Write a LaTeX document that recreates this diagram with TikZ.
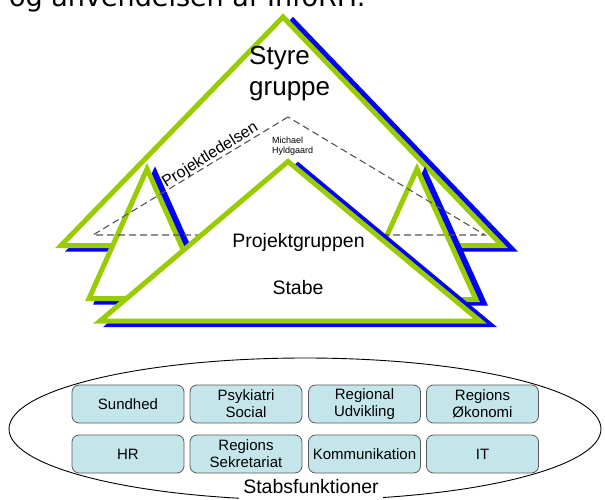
\documentclass[tikz,border=0pt]{standalone}
\usepackage{fontspec}
\setmainfont{Liberation Sans}
\newfontfamily\headfont{DejaVu Sans}
\usetikzlibrary{shapes.geometric}
\definecolor{leaf}{HTML}{99CC00}
\definecolor{shade}{HTML}{0000FF}
\definecolor{cellfill}{HTML}{C4E6EA}
\definecolor{cellline}{HTML}{5A5A5A}
\definecolor{dashgray}{HTML}{555555}
% triangle with a blue drop shadow: three vertex names and the shadow offset
\newcommand\shadedtri[4]{%
  \filldraw[trishade] ([shift={#4}]#1) -- ([shift={#4}]#2) -- ([shift={#4}]#3) -- cycle;
  \filldraw[tri] (#1) -- (#2) -- (#3) -- cycle;}
\begin{document}
\begin{tikzpicture}[x=1pt,y=-1pt,
  tri/.style={fill=white,draw=leaf,line width=5pt},
  trishade/.style={fill=shade,draw=shade,line width=5pt},
  cell/.style={draw=cellline,fill=cellfill,line width=0.8pt,rounded corners=7pt,
    minimum width=112pt,minimum height=38pt,inner sep=0pt,align=center,
    font=\fontsize{15}{17}\selectfont},
  label/.style={inner sep=0pt}]
\useasboundingbox (0,0) rectangle (605,500);

% heading line, running off the top edge
\node[label,anchor=base west,font=\headfont\fontsize{27}{32}\selectfont] (head) at (9,7) {og anvendelsen af InfoRH.};

% vertices of the triangles
\coordinate (sA) at (283,17);   \coordinate (sL) at (61,245.5);  \coordinate (sR) at (502,245.5);
\coordinate (lA) at (147,169);  \coordinate (lL) at (89,298.5);  \coordinate (lR) at (205,298.5);
\coordinate (rA) at (417,169);  \coordinate (rL) at (358,299.5); \coordinate (rR) at (476,299.5);
\coordinate (pA) at (288,161.5);\coordinate (pL) at (100,321);   \coordinate (pR) at (480,321);
\coordinate (dA) at (288,117);  \coordinate (dL) at (93,235);    \coordinate (dR) at (485,235);

% steering group
\shadedtri{sA}{sL}{sR}{(10,3.5)}
% side triangles
\shadedtri{lA}{lL}{lR}{(8,3.5)}
\shadedtri{rA}{rL}{rR}{(8,3.5)}
% project management (dashed)
\draw[dashgray,line width=1.1pt,dash pattern=on 7pt off 4pt] (dA) -- (dL) -- (dR) -- cycle;
% project group and staff
\shadedtri{pA}{pL}{pR}{(10,3.5)}

% labels (multi-line nodes sit on the baseline of their last line)
\node[label,anchor=base west,align=left,font=\fontsize{26}{31}\selectfont] (styre) at (249,96) {Styre\\gruppe};
\node[label,anchor=base west,rotate=32,font=\fontsize{16}{19}\selectfont] (ledelse) at (166,188) {Projektledelsen};
\node[label,anchor=base west,align=left,font=\fontsize{9}{10.5}\selectfont] (leder) at (272,153.5) {Michael\\Hyldgaard};
\node[label,anchor=base,font=\fontsize{19.5}{23}\selectfont] (pgruppe) at (298.5,247) {Projektgruppen};
\node[label,anchor=base,font=\fontsize{19.5}{23}\selectfont] (stabe) at (298,294) {Stabe};

% staff functions
\node[draw,ellipse,line width=0.9pt,minimum width=592pt,minimum height=142pt,inner sep=0pt] (funk) at (305,429) {};
\node[cell] (c1) at (128,404) {Sundhed};
\node[cell] (c2) at (246,404) {Psykiatri\\Social};
\node[cell] (c3) at (364.5,404) {Regional\\Udvikling};
\node[cell] (c4) at (482.5,404) {Regions\\Økonomi};
\node[cell] (c5) at (128,454) {HR};
\node[cell] (c6) at (246,454) {Regions\\Sekretariat};
\node[cell] (c7) at (364.5,454) {Kommunikation};
\node[cell] (c8) at (482.5,454) {IT};
\node[anchor=base,fill=white,inner xsep=4pt,inner ysep=1pt,text depth=6pt,
  font=\fontsize{19.5}{23}\selectfont] (stabsf) at (311,493) {Stabsfunktioner};
\end{tikzpicture}
\end{document}
